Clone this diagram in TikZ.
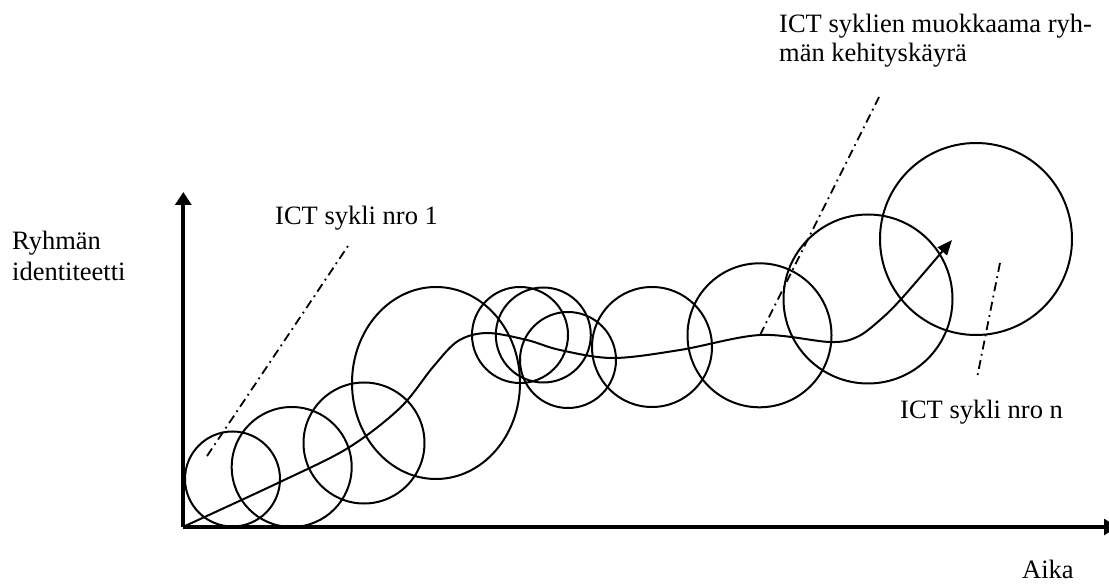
\documentclass[tikz,border=0pt]{standalone}
\usepackage{fontspec}
\setmainfont{Liberation Serif}
\usetikzlibrary{arrows.meta}
\begin{document}
\begin{tikzpicture}[x=1pt,y=-1pt,
  cyc/.style={line width=2pt},
  axis/.style={line width=4pt,-{Triangle[length=13pt,width=16pt]}},
  pathline/.style={line width=2pt,-{Triangle[length=15pt,width=12pt]}},
  pointer/.style={line width=1.8pt,dash pattern=on 9pt off 4.5pt on 1.8pt off 4.5pt},
  lbl/.style={inner sep=0pt,anchor=base west,font=\fontsize{26.5}{29}\selectfont}]
\useasboundingbox (0,0) rectangle (1109,585);
% axes
\coordinate (O) at (183.3,527);
\coordinate (ytop) at (183.3,192);
\coordinate (xend) at (1117,527);
\draw[axis] (O) -- (ytop);
\draw[axis] (O) -- (xend);
% cycles
\draw[cyc] (232.5,479) circle[radius=47.5];
\draw[cyc] (291.7,467) circle[radius=60];
\draw[cyc] (364,443) circle[radius=60.5];
\draw[cyc] (436,383) ellipse[x radius=84,y radius=96];
\draw[cyc] (520,335) circle[radius=48];
\draw[cyc] (543.3,335) circle[radius=47.5];
\draw[cyc] (568,360) circle[radius=48];
\draw[cyc] (652,347) circle[radius=60];
\draw[cyc] (759.5,335.3) circle[radius=72];
\draw[cyc] (868,299) circle[radius=84.5];
\draw[cyc] (976,239) circle[radius=96];
% development curve
\draw[pathline] plot[smooth,tension=0.55] coordinates {(185,526) (280,482) (348,448) (400,408) (433,367) (458,341) (487,333) (527,340) (560,350) (613,358) (680,350) (760,335) (830,342) (857,337) (880,320) (903,297) (952,240)};
% pointers
\coordinate (p1a) at (207,456);
\coordinate (p1b) at (350,243);
\coordinate (p2a) at (760,335);
\coordinate (p2b) at (879,97);
\coordinate (p3a) at (1000,263);
\coordinate (p3b) at (977,378);
\draw[pointer] (p1a) -- (p1b);
\draw[pointer] (p2a) -- (p2b);
\draw[pointer] (p3a) -- (p3b);
% labels
\node[lbl] (t1) at (779,33) {ICT syklien muokkaama ryh-};
\node[lbl] (t2) at (779,62) {män kehityskäyrä};
\node[lbl] (c1) at (275,225) {ICT sykli nro 1};
\node[lbl] (yl1) at (12,250) {Ryhmän};
\node[lbl] (yl2) at (12,281) {identiteetti};
\node[lbl] (cn) at (900,418) {ICT sykli nro n};
\node[lbl] (xl) at (1022,578.5) {Aika};
\end{tikzpicture}
\end{document}
